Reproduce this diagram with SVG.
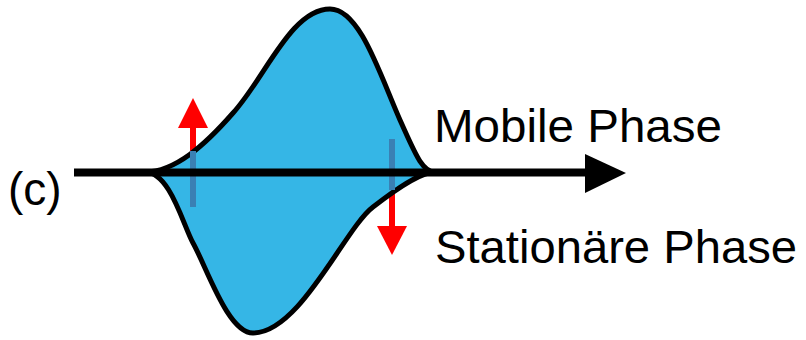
<svg xmlns="http://www.w3.org/2000/svg" width="806" height="340" viewBox="0 0 806 340">
  <style>
    .lbl { font-family: "Liberation Sans", Arial, sans-serif; font-size: 46px; fill: #000; }
    .flow { fill: #ff0000; }
    .marker-bar { fill: #3a80b4; }
    .peak { fill: #35b6e6; stroke: #000; stroke-width: 5; stroke-linejoin: round; }
    .axis { stroke: #000; stroke-width: 8; fill: none; }
  </style>

  <!-- red direction arrows (drawn first so the band covers their shafts) -->
  <g id="arrow-up">
    <rect class="flow" x="190" y="126" width="6" height="46"/>
    <polygon class="flow" points="178,128 208,128 193,98"/>
  </g>
  <g id="arrow-down">
    <rect class="flow" x="389" y="172" width="6" height="56"/>
    <polygon class="flow" points="377,226 407,226 392,255"/>
  </g>

  <!-- concentration band: mobile phase above the axis, stationary phase below -->
  <g id="band">
    <path class="peak" d="M145,172
      C175,172 205,145 233,113
      C265,78 291,9 330,9
      C360,9 380,75 400,120
      C415,153 422,172 435,172
      C420,172 395,190 373,207
      C345,228 300,333 253,333
      C228,333 207,268 193,243
      C183,225 170,172 145,172 Z"/>
  </g>

  <!-- position markers -->
  <g id="marker-left">
    <rect class="marker-bar" x="190" y="151" width="6" height="56"/>
  </g>
  <g id="marker-right">
    <rect class="marker-bar" x="389" y="139" width="6" height="51"/>
  </g>

  <!-- flow axis -->
  <g id="connectors">
    <line class="axis" x1="74" y1="172.5" x2="590" y2="172.5"/>
    <polygon points="585,154 626,173 585,193" fill="#000"/>
  </g>

  <g id="label-c">
    <text class="lbl" x="8" y="205">(c)</text>
  </g>
  <g id="label-mobile">
    <text class="lbl" x="434" y="141.5" textLength="288" lengthAdjust="spacingAndGlyphs">Mobile Phase</text>
  </g>
  <g id="label-stationary">
    <text class="lbl" x="435" y="263" textLength="362" lengthAdjust="spacingAndGlyphs">Stationäre Phase</text>
  </g>
</svg>
